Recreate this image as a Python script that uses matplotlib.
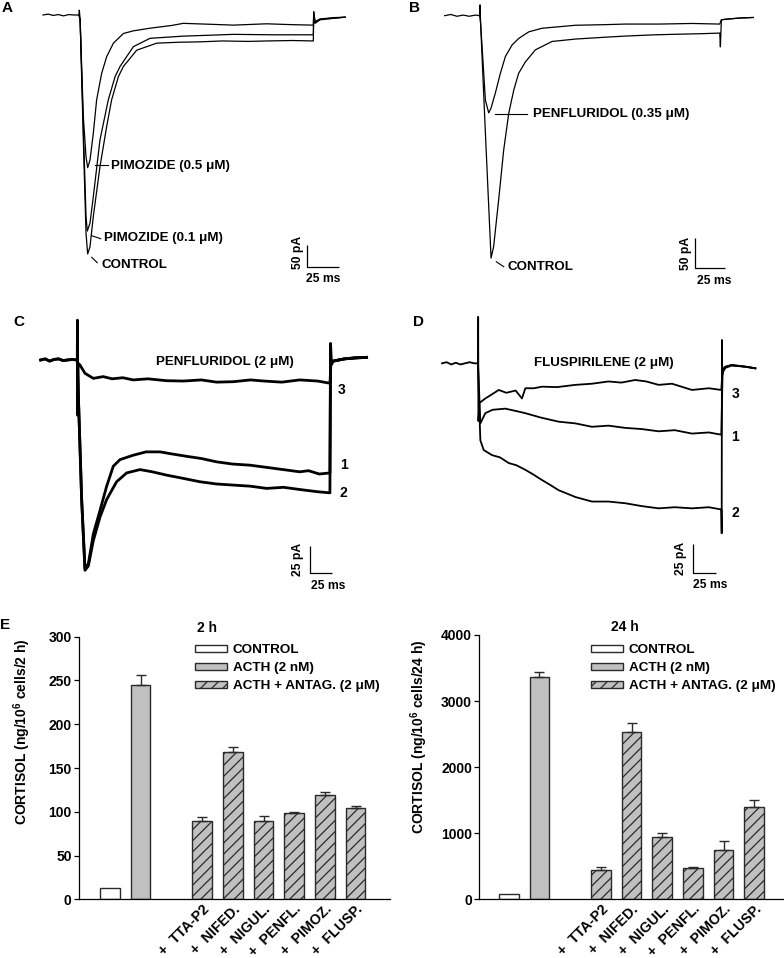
import matplotlib
matplotlib.use('Agg')
import matplotlib.pyplot as plt
from matplotlib.patches import Patch
import matplotlib.transforms as mtransforms

W, H = 784, 958
plt.rcParams['font.family'] = ['Liberation Sans', 'DejaVu Sans']
plt.rcParams['font.weight'] = 'bold'
plt.rcParams['axes.labelweight'] = 'bold'
plt.rcParams['mathtext.fontset'] = 'custom'
plt.rcParams['mathtext.rm'] = 'Liberation Sans:bold'
plt.rcParams['mathtext.it'] = 'Liberation Sans:bold'
plt.rcParams['mathtext.bf'] = 'Liberation Sans:bold'
plt.rcParams['hatch.linewidth'] = 0.9

# ---------------- data: current traces (time ms, current pA) ----------------
A_ctrl_t = [0, 4, 8, 12, 16, 20, 24, 28.1, 28.4, 29.0, 31.5, 33.6, 34.9, 36.7, 39.3, 44.5, 49.7, 53.6, 58.9, 62.8,
            73.2, 88.8, 105, 122.7, 140, 160, 174.7, 195, 211.2, 211.5, 212.5, 216.4, 226.8, 236]
A_ctrl_i = [0, 2, -1, 1, -2, 1, 0, 0, 11, -11, -284, -496, -543, -527, -458, -345, -254, -193, -140, -117,
            -80, -64, -62, -61, -59, -60, -59, -58, -59, 8, -19, -11, -7.6, -5]
A_p01_t = [28.1, 29.0, 31.5, 33.6, 34.6, 36.7, 39.3, 44.5, 51.0, 56.3, 60.2, 70.6, 83.6, 109.6, 130, 148.7, 180,
           211.2, 211.5, 212.5, 216.4, 226.8, 236]
A_p01_i = [0, -11, -254, -458, -491, -473, -413, -284, -193, -140, -117, -72, -53, -48, -46, -44, -45,
           -45, 6, -17, -10, -7, -5]
A_p05_t = [28.1, 29.0, 31.5, 33.6, 34.9, 36.7, 39.3, 41.9, 45.8, 49.7, 55.0, 62.8, 70.6, 83.6, 100, 109.6, 130,
           148.7, 174.7, 195, 211.2, 211.5, 212.5, 216.4, 226.8, 236]
A_p05_i = [0, -11, -231, -322, -347, -330, -269, -193, -133, -95, -64, -42, -36, -30, -24, -19, -21,
           -23, -20, -22, -23, 6, -15, -9, -6, -5]

B_ctrl_t = [0, 5, 10, 15, 20, 25, 28.5, 28.8, 29.3, 33.2, 35.9, 37.8, 39.9, 44.0, 48.1, 52.2, 56.3, 60.3, 65.8,
            73.9, 87.5, 106.5, 130, 147.3, 170, 188, 210, 224.2, 224.7, 225.5, 228.8, 240, 251.4]
B_ctrl_i = [0, 2, -1, 1, -1, 1, 0, 18, -13, -196, -318, -404, -385, -307, -224, -163, -124, -96, -77,
            -57, -43, -39, -36, -34, -32, -31, -30, -29, -52, -7, -6, -4, -3]
B_pen_t = [28.5, 29.3, 33.2, 35.9, 37.8, 41.3, 45.4, 49.5, 54.9, 60.3, 68.5, 79.3, 106.5, 130, 147.3, 175, 201.6,
           224.2, 225.5, 228.8, 240, 251.4]
B_pen_i = [0, -13, -141, -162, -154, -129, -96, -68, -49, -38, -27, -21, -16, -15, -14, -14, -13,
           -14, -7, -6, -4, -3]

C1_t = [0, 5, 10, 15, 20, 25, 30, 35, 41, 42.5, 45.9, 49.6, 53.4, 59, 66.4, 73.9, 81.3, 88.8, 103.7, 118, 133.6,
        148, 163.4, 180, 197, 215, 234.3, 253, 271.6, 290, 300, 312, 323.9, 324.6, 325.7, 327.6, 340, 352, 365]
C1_i = [0, 1, -1, 0.5, 1, -0.5, 0, 0.5, 0, -40, -126, -188, -184, -157, -136, -114, -96, -90, -86, -83, -83,
        -85, -87, -89, -92, -94, -95, -97, -99, -101, -100, -103, -102, 15, -4, -1, 1, 2, 2.4]
C2_t = [41, 42.5, 45.9, 49.6, 53.4, 59, 66.4, 73.9, 85, 96.3, 111.2, 125, 141, 160, 178.4, 197, 215.7, 235, 253,
        272, 290.3, 310, 323.9, 324.6, 327.6, 340, 365]
C2_i = [0, -40, -126, -190, -186, -163, -142, -126, -110, -102, -99, -101, -104, -107, -110, -112, -113, -114, -116,
        -115, -117, -119, -120, -3, -1, 1, 2.4]
C3_t = [0, 5, 10, 15, 20, 25, 30, 35, 41, 41.2, 41.5, 42, 44, 49.6, 59, 70, 80, 92, 103.7, 120, 141, 160, 180, 197,
        215.7, 235, 250, 270, 290, 310, 324, 325, 327.6, 340, 352, 365]
C3_i = [0, 1, -1, 0.5, 1, -0.5, 0, 0.5, 0, 36, -50, -3, -4.5, -12, -16.6, -15, -17, -16, -18, -17, -18.7, -19, -18,
        -20, -19.6, -18, -19, -20, -18, -19, -21, -3, -1, 1, 2, 2.4]

D1_t = [39.1, 41.7, 47.1, 55, 68.8, 80, 90.6, 108, 126.8, 145, 163, 181, 199.3, 217, 235.5, 253, 271.7, 290, 303.6,
        305, 308, 315, 330, 340.6]
D1_i = [0, -53, -44, -41, -40, -42, -44, -48, -51.5, -53, -56, -55, -57, -58, -60, -59, -62, -61, -63,
        -8, -4, -2, -3, -4.4]
D2_t = [39.1, 40.5, 41.7, 45.3, 54.3, 63, 72.5, 81, 90.6, 99, 108.7, 117, 126.8, 136, 145, 154, 163, 181, 199.3, 217,
        235.5, 253, 271.7, 290, 303.6, 304.0, 304.3, 304.6, 306, 308, 315, 330, 340.6]
D2_i = [0, -40, -68, -76.5, -81, -83, -88, -90, -94, -98, -103, -107, -112, -115, -118, -120, -122, -122, -123.5, -126,
        -128, -127, -128, -127, -129, -150, 20.6, -10, -6, -3, -1.5, -3, -4.4]
D3_t = [0, 5, 10, 15, 20, 25, 30, 35, 39.1, 39.3, 39.6, 40.6, 47.1, 55, 61.6, 70, 80, 86.9, 90.6, 100, 108.7, 125,
        145, 163, 181, 195, 210, 222, 235.5, 250, 271.7, 290, 303.6, 305, 308, 315, 330, 340.6]
D3_i = [0, 1, -1, 0.5, -1, 0, 1, 0, 0, 41, -51, -35, -31, -27, -23.5, -26, -24, -31, -22, -22, -20.6, -21,
        -19, -18, -16, -17, -14.7, -16, -19, -18, -23.5, -22, -23.5, -5, -3, -1.5, -3, -4.4]

# ---------------- data: cortisol bars ----------------
bar_groups = ['CONTROL', 'ACTH', 'ANTAG', 'ANTAG', 'ANTAG', 'ANTAG', 'ANTAG', 'ANTAG']
bar_pos = [0, 1, 3, 4, 5, 6, 7, 8]
antag_labels = ['+  TTA-P2', '+  NIFED.', '+  NIGUL.', '+  PENFL.', '+  PIMOZ.', '+  FLUSP.']
vals_2h = [12.5, 245, 89.5, 168.6, 89.8, 98.2, 118.8, 104.3]
err_2h = [0, 11, 4.5, 5.7, 5.7, 1.5, 3.4, 2.3]
vals_24h = [81, 3360, 444, 2538, 938, 479, 747, 1397]
err_24h = [0, 86, 40, 136, 61, 15, 136, 101]
legend_labels = ['CONTROL', 'ACTH (2 nM)', 'ACTH + ANTAG. (2 μM)']

fig = plt.figure(figsize=(W / 100, H / 100), dpi=100)


def ftext(x, y, s, size=9.6, ha='left', va='center', rot=0):
    fig.text(x / W, 1 - y / H, s, fontsize=size, fontweight='bold', ha=ha, va=va, rotation=rot)


class Trace:
    def __init__(self, box, x0, y0, ppms, pppa):
        l, t, r, b = box
        self.ax = fig.add_axes([l / W, 1 - b / H, (r - l) / W, (b - t) / H])
        self.ax.set_xlim((l - x0) / ppms, (r - x0) / ppms)
        self.ax.set_ylim(-(b - y0) / pppa, -(t - y0) / pppa)
        self.ax.set_axis_off()
        self.x0, self.y0, self.ppms, self.pppa = x0, y0, ppms, pppa

    def d(self, x, y):
        return (x - self.x0) / self.ppms, -(y - self.y0) / self.pppa

    def plot(self, t, i, lw):
        self.ax.plot(t, i, color='black', lw=lw, solid_joinstyle='round')

    def seg(self, p, q):
        a = self.d(*p)
        b = self.d(*q)
        self.ax.plot([a[0], b[0]], [a[1], b[1]], color='black', lw=0.8)

    def scalebar(self, corner, ms, pa):
        cx, cy = self.d(*corner)
        self.ax.plot([cx, cx, cx + ms], [cy + pa, cy, cy], color='black', lw=0.9,
                     solid_capstyle='butt')


# Panel A
pa = Trace((38, 0, 352, 300), 43, 15, 1.28, 0.44)
pa.plot(A_ctrl_t, A_ctrl_i, 0.9)
pa.plot(A_p01_t, A_p01_i, 0.9)
pa.plot(A_p05_t, A_p05_i, 0.9)
pa.seg((95, 165.5), (108.3, 165.5))
pa.seg((91.7, 235.7), (100.7, 238.7))
pa.seg((91.7, 257.3), (97.3, 262.7))
pa.scalebar((307, 267), 25, 50)
ftext(110.7, 166.5, 'PIMOZIDE (0.5 μM)')
ftext(104, 238.5, 'PIMOZIDE (0.1 μM)')
ftext(101.7, 264.5, 'CONTROL')
ftext(298.5, 252, '50 pA', size=8.7, ha='center', rot=90)
ftext(323, 278.5, '25 ms', size=8.7, ha='center')
ftext(2, 8.5, 'A', size=11)

# Panel B
pb = Trace((440, 0, 784, 300), 444.67, 15.67, 1.227, 0.6)
pb.plot(B_ctrl_t, B_ctrl_i, 0.9)
pb.plot(B_pen_t, B_pen_i, 0.9)
pb.seg((495.3, 114), (527, 114))
pb.seg((496.3, 261.7), (503.7, 266.7))
pb.scalebar((694.7, 268), 25, 50)
ftext(532.7, 114, 'PENFLURIDOL (0.35 μM)')
ftext(507.7, 266.5, 'CONTROL')
ftext(685.5, 253, '50 pA', size=8.7, ha='center', rot=90)
ftext(714, 281, '25 ms', size=8.7, ha='center')
ftext(408.5, 8.5, 'B', size=11)

# Panel C
pc = Trace((36, 300, 372, 610), 40.67, 360, 0.893, 1.107)
pc.plot(C1_t, C1_i, 2.0)
pc.plot(C2_t, C2_i, 2.0)
pc.plot(C3_t, C3_i, 2.0)
pc.scalebar((310, 573.3), 25, 25)
ftext(155.7, 362.3, 'PENFLURIDOL (2 μM)')
ftext(337.3, 390, '3', size=10)
ftext(340, 465, '1', size=10)
ftext(340, 492.7, '2', size=10)
ftext(298.5, 559, '25 pA', size=8.7, ha='center', rot=90)
ftext(328, 586, '25 ms', size=8.7, ha='center')
ftext(13, 322, 'C', size=11)

# Panel D
pd_ = Trace((440, 300, 784, 610), 442, 363.33, 0.92, 1.133)
pd_.plot(D1_t, D1_i, 1.3)
pd_.plot(D2_t, D2_i, 1.3)
pd_.plot(D3_t, D3_i, 1.3)
pd_.scalebar((693, 572.7), 25, 25)
ftext(533.7, 363.3, 'FLUSPIRILENE (2 μM)')
ftext(731.3, 394.3, '3', size=10)
ftext(731.3, 437.3, '1', size=10)
ftext(731.3, 512.7, '2', size=10)
ftext(681, 558, '25 pA', size=8.7, ha='center', rot=90)
ftext(710, 585, '25 ms', size=8.7, ha='center')
ftext(413.5, 322, 'D', size=11)

# ---------------- Panel E: bars ----------------
styles = {
    'CONTROL': dict(facecolor='white', hatch=None),
    'ACTH': dict(facecolor='#C0C0C0', hatch=None),
    'ANTAG': dict(facecolor='#C0C0C0', hatch='///'),
}
EDGE = '#2a2a2a'


def bar_panel(box, xlim, ymax, yticks, vals, errs, ylabel, ylab_x, ylab_y, title, title_xy, leg_xy):
    l, t, r, b = box
    ax = fig.add_axes([l / W, 1 - b / H, (r - l) / W, (b - t) / H])
    for p, v, g in zip(bar_pos, vals, bar_groups):
        st = styles[g]
        ax.bar(p, v, width=0.635, color=st['facecolor'], edgecolor=EDGE, linewidth=1.0,
               hatch=st['hatch'], zorder=2)
    ep = [p for p, e in zip(bar_pos, errs) if e > 0]
    ev = [v for v, e in zip(vals, errs) if e > 0]
    ee = [e for e in errs if e > 0]
    ax.errorbar(ep, ev, yerr=[[0] * len(ee), ee], fmt='none', ecolor=EDGE, elinewidth=1.0,
                capsize=3.6, capthick=1.0, zorder=3)
    ax.set_xlim(*xlim)
    ax.set_ylim(0, ymax)
    ax.set_yticks(yticks)
    ax.tick_params(axis='y', direction='out', length=3.5, width=0.9, pad=1.8, labelsize=10)
    ax.set_xticks(bar_pos[2:])
    ax.set_xticklabels(antag_labels, rotation=45, ha='right', va='top', rotation_mode='anchor',
                       fontsize=10.3)
    offset = mtransforms.ScaledTranslation(3 / 100, -3 / 100, fig.dpi_scale_trans)
    for lab in ax.get_xticklabels():
        lab.set_transform(lab.get_transform() + offset)
    ax.tick_params(axis='x', length=0, pad=2)
    for s in ('top', 'right'):
        ax.spines[s].set_visible(False)
    for s in ('left', 'bottom'):
        ax.spines[s].set_linewidth(0.9)
    ax.set_ylabel(ylabel, fontsize=10)
    ax.yaxis.set_label_coords(ylab_x, ylab_y)
    handles = [Patch(facecolor=styles[g]['facecolor'], edgecolor=EDGE, linewidth=1.0,
                     hatch=styles[g]['hatch']) for g in ('CONTROL', 'ACTH', 'ANTAG')]
    ax.legend(handles, legend_labels, loc='upper left',
              bbox_to_anchor=(leg_xy[0] / W, 1 - leg_xy[1] / H), bbox_transform=fig.transFigure,
              frameon=False, fontsize=9.7, handlelength=2.37, handleheight=0.42,
              handletextpad=0.45, labelspacing=0.45, borderpad=0, borderaxespad=0)
    ftext(title_xy[0], title_xy[1], title, size=10)
    return ax


bar_panel((79, 636.7, 390, 899.3), (-1.01, 9.12), 300, [0, 50, 100, 150, 200, 250, 300],
          vals_2h, err_2h, 'CORTISOL (ng/10$^{6}$ cells/2 h)', -0.148, 0.64,
          '2 h', (196.7, 628), (195, 644))
bar_panel((479.3, 635, 783.7, 899.3), (-0.96, 8.96), 4000, [0, 1000, 2000, 3000, 4000],
          vals_24h, err_24h, 'CORTISOL (ng/10$^{6}$ cells/24 h)', -0.162, 0.615,
          '24 h', (611, 627), (591, 644))
ftext(0, 625, 'E', size=11)

fig.savefig('out.png', dpi=100)
